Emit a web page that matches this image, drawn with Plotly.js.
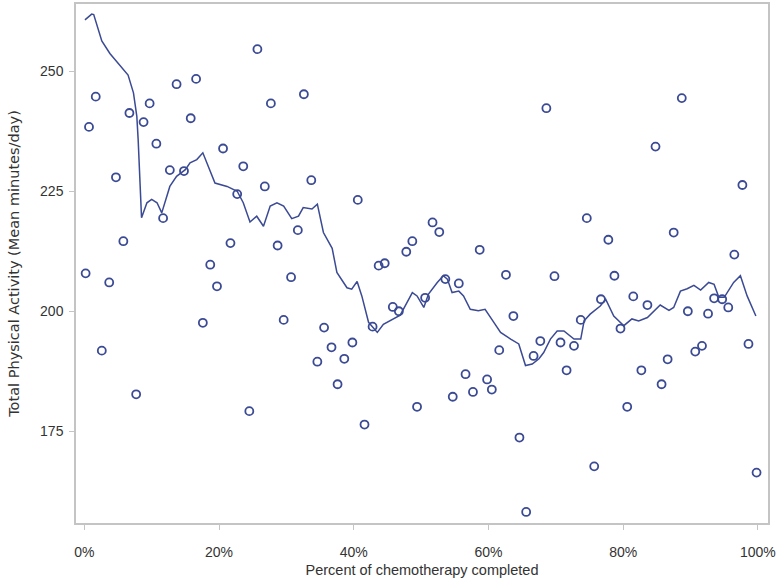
<!DOCTYPE html>
<html>
<head>
<meta charset="utf-8">
<script src="https://cdn.plot.ly/plotly-3.0.1.min.js"></script>
<style>
  html, body { margin: 0; padding: 0; background: #ffffff; }
  #chart { width: 780px; height: 582px; }
</style>
</head>
<body>
<div id="chart"></div>
<script>
// observed daily activity per percent of chemo completed
const pctCompleted = [
  0.2, 0.7, 1.7, 2.6, 3.7, 4.7, 5.8, 6.7, 7.7, 8.8, 9.7, 10.7, 11.7, 12.7, 13.7, 14.8, 15.8, 16.6, 17.6, 18.7,
  19.7, 20.6, 21.7, 22.7, 23.6, 24.5, 25.7, 26.8, 27.7, 28.7, 29.6, 30.7, 31.7, 32.6, 33.7, 34.6, 35.6, 36.7, 37.6, 38.6,
  39.8, 40.6, 41.6, 42.8, 43.7, 44.6, 45.8, 46.7, 47.8, 48.7, 49.4, 50.6, 51.7, 52.7, 53.6, 54.7, 55.6, 56.6, 57.7, 58.7,
  59.8, 60.5, 61.6, 62.6, 63.7, 64.6, 65.6, 66.7, 67.7, 68.6, 69.8, 70.7, 71.6, 72.7, 73.7, 74.6, 75.7, 76.7, 77.8, 78.7,
  79.6, 80.6, 81.5, 82.7, 83.6, 84.8, 85.7, 86.6, 87.5, 88.7, 89.6, 90.7, 91.7, 92.6, 93.5, 94.7, 95.6, 96.5, 97.7, 98.6,
  99.8,
];
const activityMinutes = [
  207.9, 238.4, 244.7, 191.8, 206.0, 227.9, 214.6, 241.3, 182.7, 239.4, 243.3, 234.9, 219.4, 229.4, 247.3, 229.2, 240.2, 248.4, 197.6, 209.7,
  205.2, 233.9, 214.2, 224.4, 230.2, 179.2, 254.6, 226.0, 243.3, 213.7, 198.2, 207.1, 216.9, 245.2, 227.3, 189.5, 196.6, 192.5, 184.8, 190.1,
  193.5, 223.2, 176.4, 196.8, 209.5, 210.0, 200.9, 200.0, 212.4, 214.6, 180.1, 202.8, 218.5, 216.5, 206.7, 182.2, 205.8, 186.9, 183.2, 212.8,
  185.8, 183.7, 191.9, 207.6, 199.0, 173.7, 158.2, 190.7, 193.8, 242.3, 207.3, 193.5, 187.7, 192.8, 198.2, 219.4, 167.7, 202.5, 214.9, 207.4,
  196.4, 180.1, 203.1, 187.7, 201.3, 234.3, 184.8, 190.0, 216.4, 244.4, 200.0, 191.6, 192.8, 199.5, 202.7, 202.5, 200.8, 211.8, 226.3, 193.2,
  166.4,
];

// smoothed trend line
const curvePct = [
  0.1, 1.1, 1.4, 2.6, 3.8, 6.5, 7.3, 7.8, 8.0, 8.5, 9.3, 10.0, 10.8, 11.5, 12.7, 13.7, 15.0, 15.7, 16.7, 17.6,
  19.4, 21.2, 22.7, 23.6, 24.6, 25.6, 26.6, 27.6, 28.6, 29.6, 30.8, 31.8, 32.5, 33.8, 34.6, 35.5, 36.8, 37.5, 39.0, 39.7,
  40.5, 41.2, 42.2, 42.9, 43.5, 44.4, 45.9, 46.9, 47.9, 48.7, 49.4, 50.4, 51.1, 52.4, 53.3, 53.9, 54.6, 55.6, 56.3, 57.3,
  58.5, 59.5, 60.8, 61.8, 63.3, 64.5, 65.5, 66.5, 67.5, 68.2, 69.2, 70.2, 71.2, 72.7, 73.7, 74.2, 75.1, 76.6, 77.4, 78.6,
  80.1, 81.3, 82.3, 83.6, 85.5, 86.8, 87.5, 88.5, 89.5, 90.5, 91.5, 92.7, 93.5, 94.2, 95.0, 96.4, 97.4, 98.4, 99.7,
];
const curveMinutes = [
  260.7, 261.9, 261.8, 256.3, 253.7, 249.2, 245.5, 240.6, 235.7, 219.5, 222.6, 223.3, 222.6, 220.5, 226.0, 228.1, 229.5, 230.9, 231.6, 233.0,
  226.7, 226.0, 225.0, 222.6, 218.6, 219.8, 217.7, 221.9, 222.6, 221.9, 219.3, 219.8, 221.6, 221.3, 222.3, 216.4, 213.1, 208.1, 204.9, 204.6,
  206.2, 203.2, 197.7, 196.6, 195.6, 197.3, 198.4, 199.2, 201.8, 203.9, 203.2, 200.8, 203.6, 206.0, 207.4, 206.7, 203.9, 204.2, 203.2, 200.4,
  200.1, 200.4, 197.7, 195.6, 194.2, 193.2, 188.7, 189.0, 190.1, 191.4, 194.2, 195.9, 195.9, 194.2, 194.2, 198.0, 199.4, 201.1, 202.5, 199.0,
  197.0, 198.4, 198.0, 198.7, 201.3, 200.2, 200.8, 204.2, 204.7, 205.4, 204.4, 206.0, 205.6, 202.9, 202.9, 206.0, 207.4, 203.2, 199.0,
];

const xTicks = [0, 20, 40, 60, 80, 100];
const yTicks = [175, 200, 225, 250];

const ink = "#3b4a94";
const frame = "#c4c4c4";
const textColor = "#333333";

Plotly.newPlot(
  "chart",
  [
    {
      x: pctCompleted,
      y: activityMinutes,
      type: "scatter",
      mode: "markers",
      marker: { symbol: "circle-open", size: 8, color: ink, line: { width: 1.8, color: ink } },
      hoverinfo: "x+y",
    },
    {
      x: curvePct,
      y: curveMinutes,
      type: "scatter",
      mode: "lines",
      line: { color: ink, width: 1.5 },
      hoverinfo: "skip",
    },
  ],
  {
    width: 780,
    height: 582,
    paper_bgcolor: "#ffffff",
    plot_bgcolor: "#ffffff",
    showlegend: false,
    font: { family: "Liberation Sans, Arial, sans-serif", color: textColor, size: 14 },
    margin: { l: 76, r: 12, t: 4, b: 59 },
    xaxis: {
      range: [-1.23, 101.5],
      tickvals: xTicks,
      ticktext: xTicks.map((v) => v + "%"),
      ticks: "outside",
      ticklen: 5,
      tickcolor: frame,
      ticklabelstandoff: 10,
      showline: true,
      linecolor: frame,
      linewidth: 1.5,
      mirror: true,
      showgrid: false,
      zeroline: false,
      tickfont: { size: 14, color: textColor },
      title: { text: "Percent of chemotherapy completed", font: { size: 14.5, color: textColor }, standoff: 6 },
    },
    yaxis: {
      range: [155.9, 264],
      tickvals: yTicks,
      ticks: "outside",
      ticklen: 5,
      tickcolor: frame,
      ticklabelstandoff: 3,
      showline: true,
      linecolor: frame,
      linewidth: 1.5,
      mirror: true,
      showgrid: false,
      zeroline: false,
      tickfont: { size: 14, color: textColor },
      title: {
        text: "Total Physical Activity (Mean minutes/day)",
        font: { family: "DejaVu Sans, sans-serif", size: 14.5, color: textColor },
        standoff: 17,
      },
    },
  },
  { displayModeBar: false, responsive: false }
);
</script>
</body>
</html>
